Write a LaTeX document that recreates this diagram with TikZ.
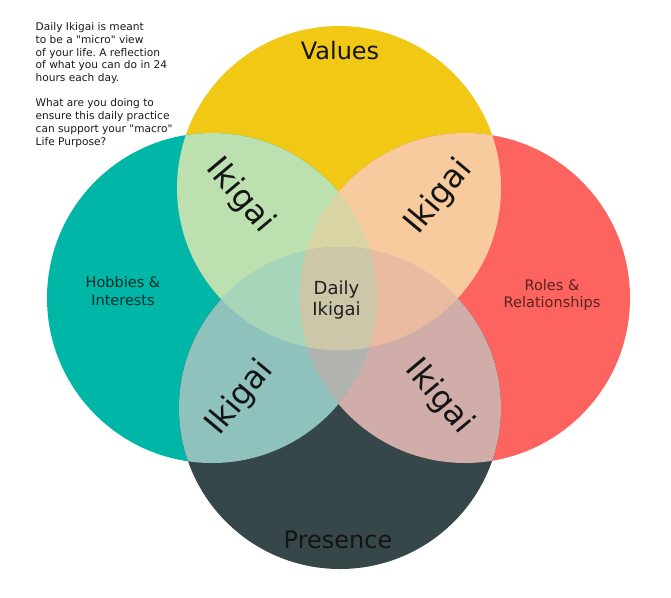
\documentclass[tikz,border=0pt]{standalone}
\usepackage{fontspec}
\setmainfont{DejaVu Sans}
\usepackage{xcolor}
\definecolor{ikyellow}{HTML}{F1C813}
\definecolor{ikteal}{HTML}{00B6A7}
\definecolor{ikred}{HTML}{FD6460}
\definecolor{ikslate}{HTML}{36474A}
\definecolor{iktl}{HTML}{BCE0B0}
\definecolor{iktr}{HTML}{F7CB9D}
\definecolor{ikbl}{HTML}{90C2BD}
\definecolor{ikbr}{HTML}{D1ADAA}
\definecolor{iktlr}{HTML}{D9D4A3}
\definecolor{iktbl}{HTML}{A6D5B9}
\definecolor{iktbr}{HTML}{EABBA1}
\definecolor{ikblr}{HTML}{B1B3AE}
\definecolor{ikmid}{HTML}{CCC7A9}
\usepackage{tikz}
\tikzset{
  bigtxt/.style ={font=\fontsize{24}{28}\selectfont, text=black!92, inner sep=0pt, anchor=base},
  ikitxt/.style ={font=\fontsize{32}{36}\selectfont, text=black!92, inner sep=0pt},
  midtxt/.style ={align=center, font=\fontsize{18}{21}\selectfont, text=black!88, inner sep=0pt},
  sidetxt/.style={align=center, font=\fontsize{14.5}{17.5}\selectfont, inner sep=0pt},
  notetxt/.style={align=left, font=\fontsize{10.6}{12.7}\selectfont, text=black!90,
                  inner sep=0pt, anchor=north west},
}
\newcommand{\rTop}{162pt}
\newcommand{\rLft}{165pt}
\newcommand{\rRgt}{165pt}
\newcommand{\rBot}{161pt}
\newcommand{\q}{\textquotedbl}
\frenchspacing

\begin{document}
\begin{tikzpicture}[x=1pt,y=-1pt]
  \useasboundingbox (0,0) rectangle (671,597);
  \coordinate (top) at (339,188);
  \coordinate (lft) at (212,298);
  \coordinate (rgt) at (465,298);
  \coordinate (bot) at (340,408);
  % the four circles
  \fill[ikyellow] (top) circle[radius=\rTop];
  \fill[ikteal]   (lft) circle[radius=\rLft];
  \fill[ikred]    (rgt) circle[radius=\rRgt];
  \fill[ikslate]  (bot) circle[radius=\rBot];
  % pairwise overlaps
  \begin{scope}
    \clip (top) circle[radius=\rTop];
    \fill[iktl] (lft) circle[radius=\rLft];
    \fill[iktr] (rgt) circle[radius=\rRgt];
  \end{scope}
  \begin{scope}
    \clip (bot) circle[radius=\rBot];
    \fill[ikbl] (lft) circle[radius=\rLft];
    \fill[ikbr] (rgt) circle[radius=\rRgt];
  \end{scope}
  % triple overlaps
  \begin{scope}
    \clip (lft) circle[radius=\rLft];
    \clip (rgt) circle[radius=\rRgt];
    \fill[iktlr] (top) circle[radius=\rTop];
    \fill[ikblr] (bot) circle[radius=\rBot];
  \end{scope}
  \begin{scope}
    \clip (top) circle[radius=\rTop];
    \clip (bot) circle[radius=\rBot];
    \fill[iktbl] (lft) circle[radius=\rLft];
    \fill[iktbr] (rgt) circle[radius=\rRgt];
  \end{scope}
  % centre
  \begin{scope}
    \clip (top) circle[radius=\rTop];
    \clip (bot) circle[radius=\rBot];
    \clip (lft) circle[radius=\rLft];
    \fill[ikmid] (rgt) circle[radius=\rRgt];
  \end{scope}
  % labels
  \node[bigtxt] (values)   at (340,59)  {Values};
  \node[bigtxt] (presence) at (338,548) {Presence};
  \node[sidetxt, text=ikteal!25!black] (hobbies) at (123,291) {Hobbies \&\\Interests};
  \node[sidetxt, text=ikred!35!black]  (roles)   at (552,295) {Roles \&\\Relationships};
  \node[midtxt] (daily) at (336.5,300.5) {Daily\\Ikigai};
  \node[ikitxt, rotate=-50] (ikitl) at (240,196) {Ikigai};
  \node[ikitxt, rotate=50]  (ikitr) at (439,197) {Ikigai};
  \node[ikitxt, rotate=50]  (ikibl) at (240,398) {Ikigai};
  \node[ikitxt, rotate=-50] (ikibr) at (439,397) {Ikigai};
  \node[notetxt] (note) at (35.5,22.5) {Daily Ikigai is meant\\to be a \q micro\q{} view\\of your life. A reflection\\of what you can do in 24\\hours each day.\\[12.7pt]What are you doing to\\ensure this daily practice\\can support your \q macro\q\\Life Purpose?};
\end{tikzpicture}
\end{document}
